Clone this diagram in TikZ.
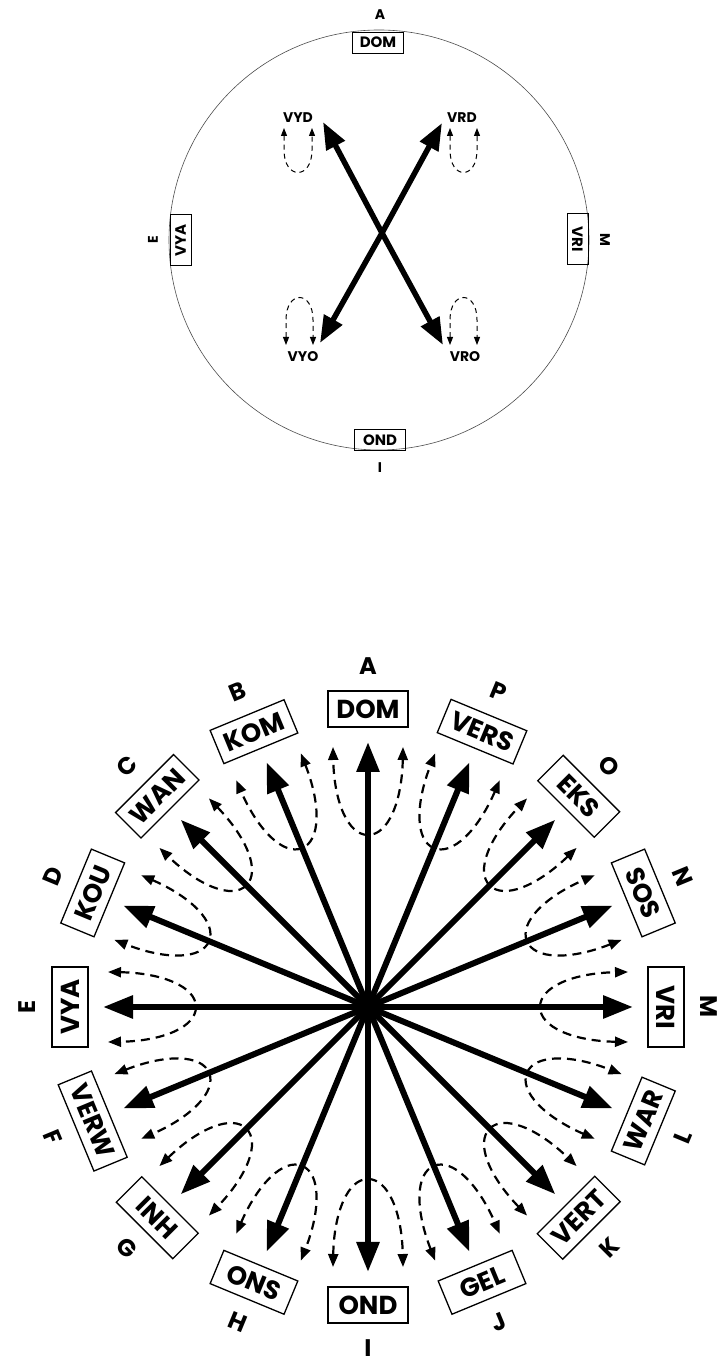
\documentclass[tikz,border=0pt]{standalone}
\usepackage{fontspec}
\setmainfont{Poppins}
\usetikzlibrary{arrows.meta,calc}

\begin{document}
\begin{tikzpicture}[
  x=1pt, y=1pt,
  font=\bfseries,
  bx/.style={draw, line width=1.3pt, inner xsep=8pt, inner ysep=0pt,
             minimum height=36pt, minimum width=80pt,
             font=\fontsize{26}{26}\selectfont\bfseries},
  lt/.style={inner sep=0pt, font=\fontsize{24}{24}\selectfont\bfseries},
  sbx/.style={draw, line width=0.8pt, inner xsep=6pt, inner ysep=0pt,
              minimum height=21pt, minimum width=51pt,
              font=\fontsize{15}{15}\selectfont\bfseries},
  slt/.style={inner sep=1pt, font=\fontsize{14}{14}\selectfont\bfseries},
  fl/.style={-{Triangle[length=30pt,width=22pt]}, line width=6pt},
  dl/.style={{Triangle[length=13pt,width=10pt]}-{Triangle[length=13pt,width=10pt]},
             line width=2.2pt, dash pattern=on 9pt off 6pt},
  sfl/.style={-{Triangle[length=27pt,width=20pt]}, line width=5.5pt},
  sdl/.style={{Triangle[length=8pt,width=6pt]}-{Triangle[length=8pt,width=6pt]},
              line width=1pt, dash pattern=on 5pt off 4pt},
]
\useasboundingbox (0,0) rectangle (718,1360);

% ---- top: the circle ----
\coordinate (cc) at (379,1120);
\draw[line width=0.6pt, black!70] (cc) circle (210);

\node[sbx] (dom) at (378,1317.5) {DOM};
\node[sbx] (ond) at (380,920) {OND};
\node[sbx, rotate=90] (vya) at (180.5,1120) {VYA};
\node[sbx, rotate=-90] (vri) at (577.5,1121) {VRI};

\node[slt] (la) at (380,1345) {A};
\node[slt] (li) at (380,892) {I};
\node[slt, rotate=90] (le) at (153,1120) {E};
\node[slt, rotate=-90] (lm) at (605,1120) {M};

\node[slt] (vyd) at (298,1242) {VYD};
\node[slt] (vrd) at (462,1242) {VRD};
\node[slt] (vyo) at (303,1003) {VYO};
\node[slt] (vro) at (465,1003) {VRO};

\coordinate (xc) at (382,1127);
\coordinate (tyd) at (323,1238);
\coordinate (trd) at (442,1237);
\coordinate (tyo) at (320,1017);
\coordinate (tro) at (443,1015);
\foreach \b in {tyd, trd, tyo, tro}
  \draw[sfl] (xc) -- (\b);

\foreach \x/\y in {284/312, 450/477}
  \draw[sdl] (\x,1232) -- (\x,1210) .. controls (\x,1180) and (\y,1180)
             .. (\y,1210) -- (\y,1232);
\foreach \x/\y in {286/313, 450/477}
  \draw[sdl] (\x,1015) -- (\x,1040) .. controls (\x,1070) and (\y,1070)
             .. (\y,1040) -- (\y,1015);

% ---- bottom: the sixteen directions ----
\coordinate (ctr) at (368,353);

\foreach \k in {0,...,15} {
  \begin{scope}[shift={(ctr)}, rotate=90-22.5*\k]
    \draw[dl] (260,-35) .. controls (205,-34) and (172,-20) .. (172,0)
              .. controls (172,20) and (205,34) .. (260,35);
  \end{scope}
}

\foreach \ang/\rot/\ltr/\txt [count=\i] in {90/0/A/DOM, 67.5/-22.5/P/VERS,
    45/-45/O/EKS, 22.5/-67.5/N/SOS, 0/-90/M/VRI, -22.5/67.5/L/WAR,
    -45/45/K/VERT, -67.5/22.5/J/GEL, -90/0/I/OND, -112.5/-22.5/H/ONS,
    -135/-45/G/INH, -157.5/-67.5/F/VERW, 180/90/E/VYA, 157.5/67.5/D/KOU,
    135/45/C/WAN, 112.5/22.5/B/KOM} {
  \coordinate (tip\i) at ($(ctr)+(\ang:265)$);
  \node[bx, rotate=\rot] (bx\i) at ($(ctr)+(\ang:298)$) {\txt};
  \node[lt, rotate=\rot] (lb\i) at ($(ctr)+(\ang:341)$) {\ltr};
  \draw[fl] (ctr) -- (tip\i);
}

\end{tikzpicture}
\end{document}
